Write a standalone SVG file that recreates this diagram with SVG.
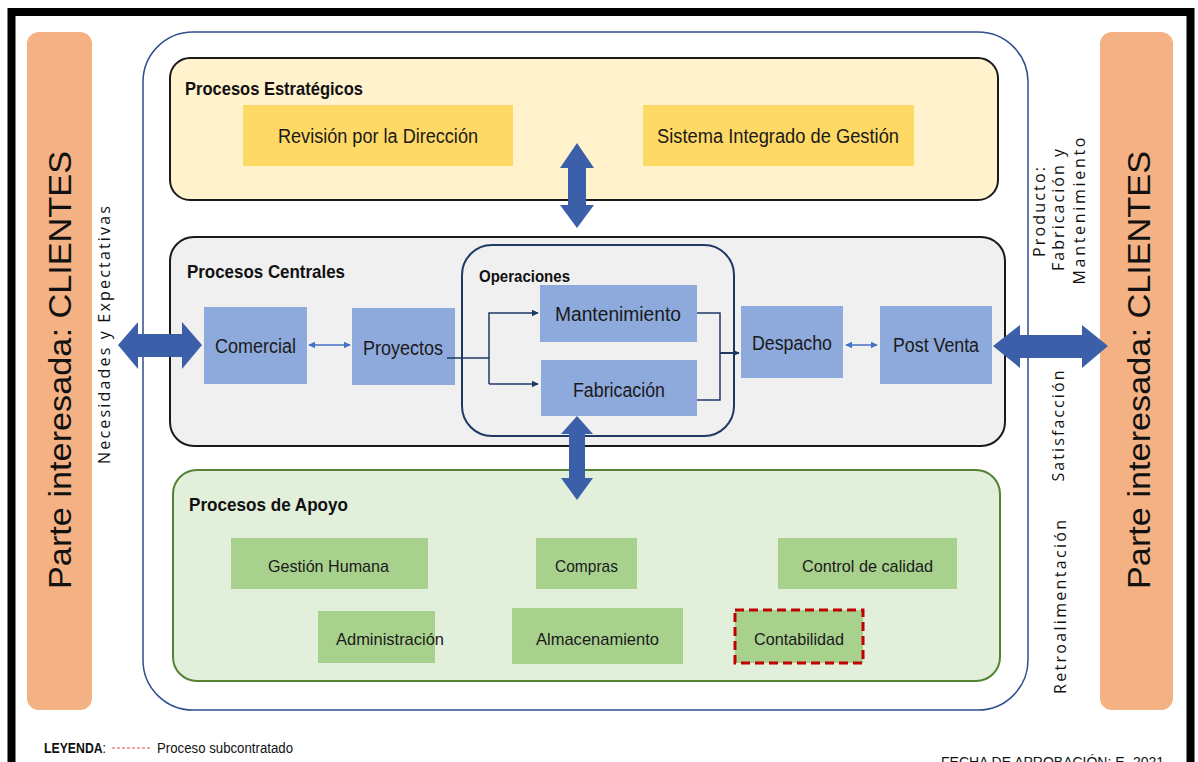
<svg xmlns="http://www.w3.org/2000/svg" width="1198" height="762" viewBox="0 0 1198 762">
<defs>
<style>
.lbl{font-family:"Liberation Sans Narrow","Liberation Sans",Arial,sans-serif;font-size:20px;fill:#1a1a1a}
.sm{font-size:17px}
.ttl{font-family:"Liberation Sans Narrow","Liberation Sans",Arial,sans-serif;font-size:19px;font-weight:bold;fill:#111}
.side{font-family:"Liberation Sans",Arial,sans-serif;font-size:31px;fill:#111}
.vt{font-family:"Open Sans","DejaVu Sans",sans-serif;font-size:16px;fill:#111}
.blue{fill:#8EA9DB}
.green{fill:#A9D18E}
.yel{fill:#FFD966}
.big{fill:#3B5FA8}
.con{fill:none;stroke:#1F3864;stroke-width:1.5}
.sma{fill:none;stroke:#4472C4;stroke-width:1.5}
.ft{font-family:"Liberation Sans Narrow","Liberation Sans",sans-serif;font-size:14px;fill:#111}
</style>
<marker id="ah" viewBox="0 0 10 10" refX="9" refY="5" markerWidth="7" markerHeight="7" orient="auto-start-reverse" markerUnits="userSpaceOnUse"><path d="M0,0 L10,5 L0,10 z" fill="#1F3864"/></marker>
<marker id="sa" viewBox="0 0 10 10" refX="9" refY="5" markerWidth="7" markerHeight="7" orient="auto-start-reverse" markerUnits="userSpaceOnUse"><path d="M0,0 L10,5 L0,10 z" fill="#4472C4"/></marker>
</defs>
<rect width="1198" height="762" fill="#fff"/>
<rect x="11.5" y="12" width="1179" height="800" fill="none" stroke="#000" stroke-width="8"/>

<g id="clientes-left">
<rect x="27" y="32" width="65" height="678" rx="12" fill="#F4B183"/>
<text class="side" transform="translate(71,370) rotate(-90)" text-anchor="middle" textLength="438" lengthAdjust="spacingAndGlyphs">Parte interesada: CLIENTES</text>
</g>
<g id="clientes-right">
<rect x="1100" y="32" width="73" height="678" rx="12" fill="#F4B183"/>
<text class="side" transform="translate(1150,370) rotate(-90)" text-anchor="middle" textLength="438" lengthAdjust="spacingAndGlyphs">Parte interesada: CLIENTES</text>
</g>

<g id="side-labels">
<text class="vt" transform="translate(110,335) rotate(-90)" text-anchor="middle" textLength="258" lengthAdjust="spacing">Necesidades y Expectativas</text>
<text class="vt" transform="translate(1045,212) rotate(-90)" text-anchor="middle" textLength="90" lengthAdjust="spacing">Producto:</text>
<text class="vt" transform="translate(1064,210) rotate(-90)" text-anchor="middle" textLength="122" lengthAdjust="spacing">Fabricación y</text>
<text class="vt" transform="translate(1085,211) rotate(-90)" text-anchor="middle" textLength="147" lengthAdjust="spacing">Mantenimiento</text>
<text class="vt" transform="translate(1064,426) rotate(-90)" text-anchor="middle" textLength="111" lengthAdjust="spacing">Satisfacción</text>
<text class="vt" transform="translate(1066,607) rotate(-90)" text-anchor="middle" textLength="174" lengthAdjust="spacing">Retroalimentación</text>
</g>

<g id="organizacion">
<rect x="143" y="32" width="885" height="678" rx="50" fill="none" stroke="#2F4F8F" stroke-width="1.5"/>
</g>

<g id="estrategicos">
<rect x="170" y="58" width="828" height="142" rx="20" fill="#FFF2CC" stroke="#1a1a1a" stroke-width="2"/>
<text class="ttl" x="185" y="95" textLength="178" lengthAdjust="spacingAndGlyphs">Procesos Estratégicos</text>
</g>
<g id="revision">
<rect class="yel" x="243" y="105" width="270" height="61"/>
<text class="lbl" x="278" y="143" textLength="200" lengthAdjust="spacingAndGlyphs">Revisión por la Dirección</text>
</g>
<g id="sistema">
<rect class="yel" x="643" y="105" width="271" height="61"/>
<text class="lbl" x="657" y="143" textLength="242" lengthAdjust="spacingAndGlyphs">Sistema Integrado de Gestión</text>
</g>

<g id="centrales">
<rect x="170" y="237" width="835" height="209" rx="24" fill="#F0F0F0" stroke="#1a1a1a" stroke-width="2"/>
<text class="ttl" x="187" y="278" textLength="158" lengthAdjust="spacingAndGlyphs">Procesos Centrales</text>
</g>
<g id="operaciones">
<rect x="462" y="245" width="272" height="191" rx="30" fill="none" stroke="#1F3864" stroke-width="2"/>
<text class="ttl" x="479" y="282" style="font-size:16px" textLength="91" lengthAdjust="spacingAndGlyphs">Operaciones</text>
</g>
<g id="comercial">
<rect class="blue" x="204" y="307" width="103" height="77"/>
<text class="lbl" x="215" y="353" textLength="81" lengthAdjust="spacingAndGlyphs">Comercial</text>
</g>
<g id="proyectos">
<rect class="blue" x="352" y="308" width="103" height="77"/>
<text class="lbl" x="363" y="355" textLength="80" lengthAdjust="spacingAndGlyphs">Proyectos</text>
</g>
<g id="mantenimiento">
<rect class="blue" x="540" y="285" width="157" height="57"/>
<text class="lbl" x="555" y="321" textLength="126" lengthAdjust="spacingAndGlyphs">Mantenimiento</text>
</g>
<g id="fabricacion">
<rect class="blue" x="541" y="360" width="156" height="56"/>
<text class="lbl" x="573" y="397" textLength="92" lengthAdjust="spacingAndGlyphs">Fabricación</text>
</g>
<g id="despacho">
<rect class="blue" x="741" y="306" width="102" height="72"/>
<text class="lbl" x="752" y="350" textLength="80" lengthAdjust="spacingAndGlyphs">Despacho</text>
</g>
<g id="postventa">
<rect class="blue" x="880" y="306" width="112" height="78"/>
<text class="lbl" x="893" y="352" textLength="86" lengthAdjust="spacingAndGlyphs">Post Venta</text>
</g>

<g id="apoyo">
<rect x="173" y="470" width="827" height="211" rx="24" fill="#E2EFDA" stroke="#548235" stroke-width="2"/>
<text class="ttl" x="189" y="511" textLength="159" lengthAdjust="spacingAndGlyphs">Procesos de Apoyo</text>
</g>
<g id="gestion-humana">
<rect class="green" x="231" y="538" width="197" height="51"/>
<text class="lbl sm" x="268" y="572" textLength="121" lengthAdjust="spacingAndGlyphs">Gestión Humana</text>
</g>
<g id="compras">
<rect class="green" x="536" y="538" width="101" height="51"/>
<text class="lbl sm" x="555" y="572" textLength="63" lengthAdjust="spacingAndGlyphs">Compras</text>
</g>
<g id="control-calidad">
<rect class="green" x="778" y="538" width="179" height="51"/>
<text class="lbl sm" x="802" y="572" textLength="131" lengthAdjust="spacingAndGlyphs">Control de calidad</text>
</g>
<g id="administracion">
<rect class="green" x="318" y="611" width="117" height="52"/>
<text class="lbl sm" x="336" y="645" textLength="108" lengthAdjust="spacingAndGlyphs">Administración</text>
</g>
<g id="almacenamiento">
<rect class="green" x="512" y="608" width="171" height="56"/>
<text class="lbl sm" x="536" y="645" textLength="123" lengthAdjust="spacingAndGlyphs">Almacenamiento</text>
</g>
<g id="contabilidad">
<rect class="green" x="735" y="610" width="128" height="53" stroke="#C00000" stroke-width="3" stroke-dasharray="9,5"/>
<text class="lbl sm" x="754" y="645" textLength="90" lengthAdjust="spacingAndGlyphs">Contabilidad</text>
</g>

<g id="connectors">
<path class="big" d="M577,143 L594,168 L586,168 L586,205 L594,205 L577,228 L560,205 L568,205 L568,168 L560,168 Z"/>
<path class="big" d="M577,416 L593,434 L585,434 L585,478 L593,478 L577,500 L561,478 L569,478 L569,434 L561,434 Z"/>
<path class="big" d="M118,345 L138,322 L138,334 L182,334 L182,322 L202,345 L182,369 L182,357 L138,357 L138,369 Z"/>
<path class="big" d="M993,346 L1020,325 L1020,335 L1082,335 L1082,325 L1108,346 L1082,368 L1082,358 L1020,358 L1020,368 Z"/>
<line class="sma" x1="309" y1="345" x2="350" y2="345" marker-start="url(#sa)" marker-end="url(#sa)"/>
<line class="sma" x1="846" y1="345" x2="877" y2="345" marker-start="url(#sa)" marker-end="url(#sa)"/>
<path class="con" d="M447,358 L489,358"/>
<path class="con" d="M489,384 L489,313 L538,313" marker-end="url(#ah)"/>
<path class="con" d="M489,384 L538,384" marker-end="url(#ah)"/>
<path class="con" d="M697,313 L720,313 L720,400 L697,400"/>
<path class="con" style="stroke-width:2" d="M720,353 L739,353" marker-end="url(#ah)"/>
</g>

<g id="legend">
<text class="ft" x="44" y="753" textLength="62" lengthAdjust="spacingAndGlyphs"><tspan font-weight="bold">LEYENDA</tspan>:</text>
<line x1="112" y1="748" x2="152" y2="748" stroke="#E05050" stroke-width="1.2" stroke-dasharray="3,2"/>
<text class="ft" x="157" y="753" textLength="136" lengthAdjust="spacingAndGlyphs">Proceso subcontratado</text>
<text x="941" y="767" style="font-family:'Liberation Sans',sans-serif;font-size:14px;fill:#111">FECHA DE APROBACIÓN: E</text>
<text x="1133" y="767" style="font-family:'Liberation Sans',sans-serif;font-size:14px;fill:#111">2021</text>
</g>
</svg>
